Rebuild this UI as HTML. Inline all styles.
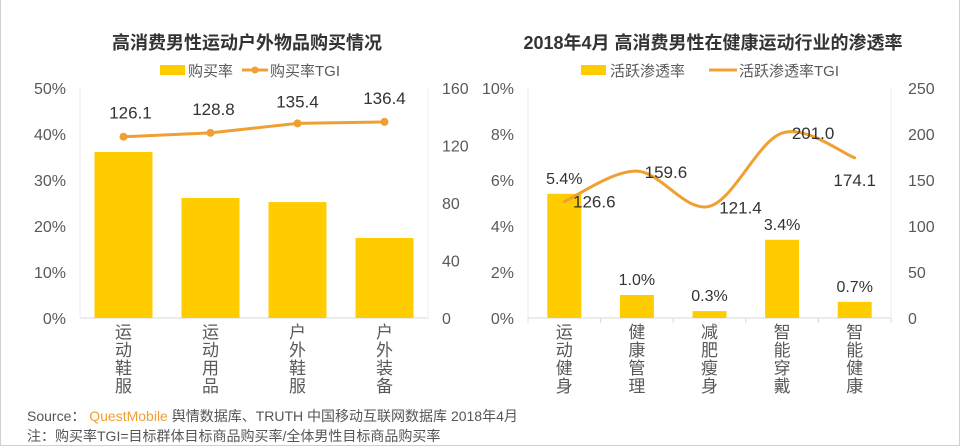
<!DOCTYPE html>
<html><head><meta charset="utf-8">
<style>
html,body{margin:0;padding:0;background:#fff;}
body{width:960px;height:448px;overflow:hidden;position:relative;font-family:"Liberation Sans","Noto Sans CJK SC",sans-serif;}
#frame{position:absolute;left:0;top:0;width:958px;height:445px;border:1px solid #d0d0d0;border-top:none;}
svg{position:absolute;left:0;top:0;}
</style></head>
<body>
<div id="frame"></div>
<svg id="c" width="960" height="448"></svg>
<script>
const leftCats=["运动鞋服","运动用品","户外鞋服","户外装备"];
const leftRate=[36.1,26.1,25.2,17.4];
const leftTGI=[126.1,128.8,135.4,136.4];
const leftYTicks=[0,10,20,30,40,50];
const leftY2Ticks=[0,40,80,120,160];
const rightCats=["运动健身","健康管理","减肥瘦身","智能穿戴","智能健康"];
const rightRate=[5.4,1.0,0.3,3.4,0.7];
const rightTGI=[126.6,159.6,121.4,201.0,174.1];
const rightYTicks=[0,2,4,6,8,10];
const rightY2Ticks=[0,50,100,150,200,250];
const labelOffsets=[[30,0],[29,1],[31,1],[31,0],[0,22]];

const svg=document.getElementById('c');
const NS='http://www.w3.org/2000/svg';
function mk(tag,attrs,parent){const e=document.createElementNS(NS,tag);for(const k in attrs)e.setAttribute(k,attrs[k]);(parent||svg).appendChild(e);return e;}
function txt(s,x,y,attrs){const t=mk('text',Object.assign({x:x,y:y,'font-size':16,fill:'#595959','font-family':'"Liberation Sans","Noto Sans CJK SC",sans-serif'},attrs||{}));t.textContent=s;return t;}

const Y0=318,Y1=88;
function chart(o){
  const g=mk('g',{});
  
  
  const n=o.cats.length, bw=(o.x1-o.x0)/n;
  const yL=v=>Y0-(v/o.yMax)*(Y0-Y1);
  const yR=v=>Y0-(v/o.y2Max)*(Y0-Y1);
  const xc=i=>o.x0+bw*(i+0.5);
  const ax=mk('line',{x1:o.x0,y1:Y0,x2:o.x1,y2:Y0,stroke:'#d9d9d9','stroke-width':1},g);
  
  const ly=mk('line',{x1:o.x0,y1:Y1,x2:o.x0,y2:Y0,stroke:'#ececec'},g);
  
  const ry=mk('line',{x1:o.x1,y1:Y1,x2:o.x1,y2:Y0,stroke:'#ececec'},g);
  
  if(o.ticksX){for(let i=0;i<=n;i++){const t=mk('line',{x1:o.x0+bw*i,y1:Y0,x2:o.x0+bw*i,y2:Y0+5,stroke:'#d9d9d9'},g);}}
  o.yt.forEach(v=>{const t=txt(v+'%',o.x0-14,yL(v)+6,{'text-anchor':'end'});g.appendChild(t);});
  o.y2t.forEach(v=>{const t=txt(String(v),o.x1+o.r2,yR(v)+6,{'text-anchor':'start'});g.appendChild(t);});
  o.cats.forEach((c,i)=>{
    const b=mk('rect',{x:xc(i)-o.barW/2,y:yL(o.rate[i]),width:o.barW,height:Y0-yL(o.rate[i]),fill:'#ffcc00'},g);
    
    [...c].forEach((ch,k)=>{const t=txt(ch,xc(i),338+k*18,{'text-anchor':'middle','font-size':17});g.appendChild(t);});
    if(o.rateLabels){const t=txt(o.rate[i].toFixed(1)+'%',xc(i),yL(o.rate[i])-10,{'text-anchor':'middle',fill:'#333'});g.appendChild(t);}
  });
  const pts=o.tgi.map((v,i)=>[xc(i),yR(v)]);
  let d='M'+pts[0][0]+','+pts[0][1];
  if(o.smooth){
    for(let i=0;i<pts.length-1;i++){
      const p0=pts[Math.max(0,i-1)],p1=pts[i],p2=pts[i+1],p3=pts[Math.min(pts.length-1,i+2)];
      const c1=[p1[0]+(p2[0]-p0[0])/6,p1[1]+(p2[1]-p0[1])/6],c2=[p2[0]-(p3[0]-p1[0])/6,p2[1]-(p3[1]-p1[1])/6];
      d+=' C'+c1+' '+c2+' '+p2;
    }
  } else pts.slice(1).forEach(p=>d+=' L'+p[0]+','+p[1]);
  const ln=mk('path',{d:d,fill:'none',stroke:'#f0a030','stroke-width':3,'stroke-linecap':'round'},g);
  
  pts.forEach((p,i)=>{
    if(o.dots){const c=mk('circle',{cx:p[0],cy:p[1],r:4,fill:'#f0a030'},g);}
    const off=o.offs?o.offs[i]:[0,-14];
    const t=txt(o.tgi[i].toFixed(1),p[0]+off[0],p[1]+off[1]+6,{'text-anchor':'middle',fill:'#333','font-size':17});
    g.appendChild(t);
  });
  return g;
}
chart({name:'left-chart',cats:leftCats,rate:leftRate,tgi:leftTGI,yt:leftYTicks,y2t:leftY2Ticks,yMax:50,y2Max:160,x0:80,x1:428,barW:58,r2:14,dots:true,smooth:false,rateLabels:false,ticksX:false,offs:[[7,-24],[3,-24],[0,-22],[0,-24]]});
chart({name:'right-chart',cats:rightCats,rate:rightRate,tgi:rightTGI,yt:rightYTicks,y2t:rightY2Ticks,yMax:10,y2Max:250,x0:528,x1:891,barW:34,r2:17,dots:false,smooth:true,rateLabels:true,ticksX:true,offs:labelOffsets});

let t=txt('高消费男性运动户外物品购买情况',247,49,{'text-anchor':'middle','font-size':18,'font-weight':'bold',fill:'#333'});

t=txt('2018年4月 高消费男性在健康运动行业的渗透率',713,49,{'text-anchor':'middle','font-size':18,'font-weight':'bold',fill:'#333'});

let r=mk('rect',{x:160,y:65,width:25,height:10,fill:'#ffcc00'});
t=txt('购买率',188,76,{'font-size':15});
let l=mk('line',{x1:242,y1:70,x2:268,y2:70,stroke:'#f0a030','stroke-width':3});
let c=mk('circle',{cx:255,cy:70,r:3.5,fill:'#f0a030'});
t=txt('购买率TGI',270,76,{'font-size':15});
r=mk('rect',{x:581,y:65,width:25,height:10,fill:'#ffcc00'});
t=txt('活跃渗透率',610,76,{'font-size':15});
l=mk('line',{x1:709,y1:70,x2:737,y2:70,stroke:'#f0a030','stroke-width':3});
t=txt('活跃渗透率TGI',739,76,{'font-size':15});
const s=mk('text',{x:27,y:421,'font-size':14,fill:'#555','font-family':'"Liberation Sans","Noto Sans CJK SC",sans-serif'});

const a=mk('tspan',{},s);a.textContent='Source：  ';
const b=mk('tspan',{fill:'#f0a030'},s);b.textContent='QuestMobile';
const d2=mk('tspan',{},s);d2.textContent=' 舆情数据库、TRUTH 中国移动互联网数据库 2018年4月';
t=txt('注：购买率TGI=目标群体目标商品购买率/全体男性目标商品购买率',27,441,{'font-size':14,fill:'#555'});

</script>
</body></html>
